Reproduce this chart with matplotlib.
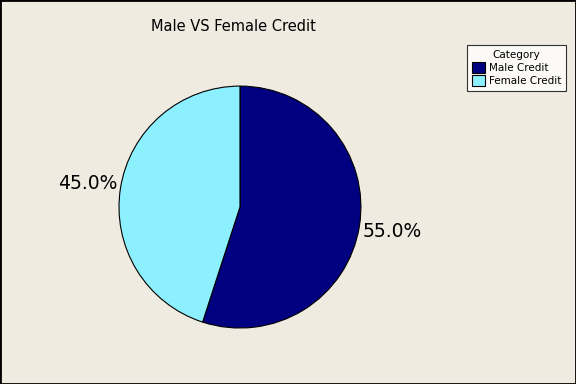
import matplotlib
matplotlib.use("Agg")
from matplotlib import pyplot as plt
from matplotlib.patches import Rectangle

categories = ["Male Credit", "Female Credit"]
shares = [55.0, 45.0]
colors = ["#000080", "#8CF0FF"]
bg = "#F0EBE1"

fig = plt.figure(figsize=(5.76, 3.84), dpi=100, facecolor=bg)
ax = fig.add_axes([0.2066, 0.1458, 0.420, 0.630])
ax.set_facecolor(bg)

wedges, texts = ax.pie(shares, colors=colors, startangle=90, counterclock=False,
                       labels=["%.1f%%" % s for s in shares], labeldistance=1.27,
                       wedgeprops=dict(edgecolor="black", linewidth=0.8),
                       textprops=dict(fontsize=13.5, ha="center", va="center"))
ax.set_xlim(-1, 1)
ax.set_ylim(-1, 1)
ax.set_aspect("equal")
for t in texts:
    t.set_clip_on(False)

fig.text(0.406, 0.93, "Male VS Female Credit", ha="center", va="center", fontsize=10.5)

leg = fig.legend(wedges, categories, title="Category", loc="upper left",
                 bbox_to_anchor=(0.811, 0.883), fontsize=7.5, title_fontsize=7.5,
                 frameon=True, fancybox=False, edgecolor="black",
                 handlelength=1.25, handleheight=1.25, handletextpad=0.4,
                 borderpad=0.45, labelspacing=0.2, borderaxespad=0)
leg.get_frame().set_linewidth(0.8)

fig.patches.append(Rectangle((0, 0), 1, 1, transform=fig.transFigure, fill=False,
                             edgecolor="black", linewidth=2))

fig.savefig("out.png", dpi=100, facecolor=bg)
